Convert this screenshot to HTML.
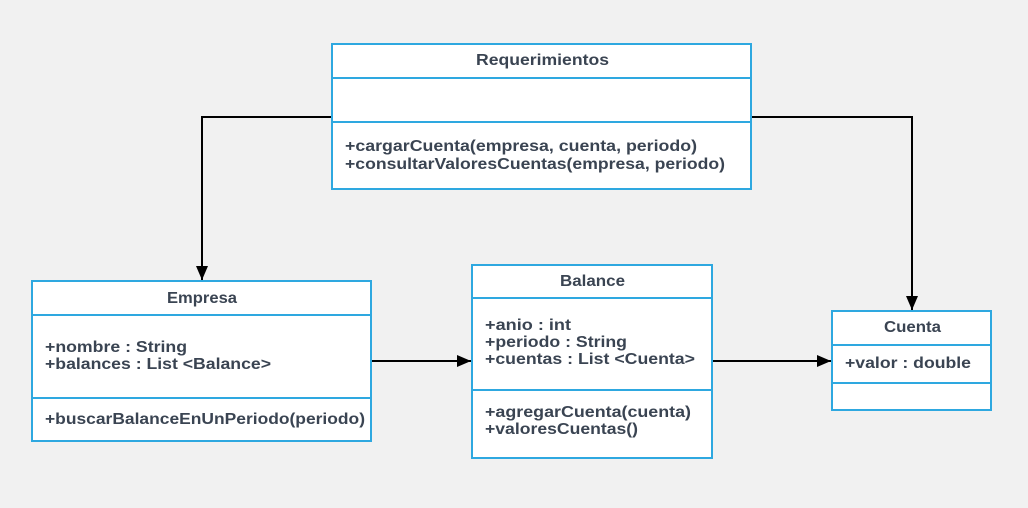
<!DOCTYPE html>
<html><head><meta charset="utf-8"><style>
html,body{margin:0;padding:0;background:#f1f1f1;}
svg{display:block;}
text{font-family:"Liberation Sans",sans-serif;font-size:16px;font-weight:bold;fill:#3a4452;}
</style></head><body>
<svg width="1028" height="508" xmlns="http://www.w3.org/2000/svg">
<defs><marker id="a" markerWidth="14" markerHeight="12" refX="14" refY="6" orient="auto" markerUnits="userSpaceOnUse"><path d="M0,0 L14,6 L0,12 z" fill="#000"/></marker></defs>
<rect width="1028" height="508" fill="#f1f1f1"/>
<g fill="none" stroke="#000" stroke-width="2">
<polyline points="332,117 202,117 202,280" marker-end="url(#a)"/>
<polyline points="751,117 912,117 912,310" marker-end="url(#a)"/>
<line x1="371" y1="361" x2="471" y2="361" marker-end="url(#a)"/>
<line x1="712" y1="361" x2="831" y2="361" marker-end="url(#a)"/>
</g>
<g fill="#fff" stroke="#2ea8e0" stroke-width="2">
<rect x="332" y="44" width="419" height="145"/>
<line x1="332" y1="78" x2="751" y2="78"/><line x1="332" y1="122" x2="751" y2="122"/>
<rect x="32" y="281" width="339" height="160"/>
<line x1="32" y1="315" x2="371" y2="315"/><line x1="32" y1="398" x2="371" y2="398"/>
<rect x="472" y="265" width="240" height="193"/>
<line x1="472" y1="298" x2="712" y2="298"/><line x1="472" y1="390" x2="712" y2="390"/>
<rect x="832" y="311" width="159" height="99"/>
<line x1="832" y1="345" x2="991" y2="345"/><line x1="832" y1="383" x2="991" y2="383"/>
</g>
<text x="476" y="65" textLength="133" lengthAdjust="spacingAndGlyphs">Requerimientos</text>
<text x="345" y="151" textLength="352" lengthAdjust="spacingAndGlyphs">+cargarCuenta(empresa, cuenta, periodo)</text>
<text x="345" y="169" textLength="380" lengthAdjust="spacingAndGlyphs">+consultarValoresCuentas(empresa, periodo)</text>
<text x="167" y="303" textLength="70" lengthAdjust="spacingAndGlyphs">Empresa</text>
<text x="45" y="352" textLength="142" lengthAdjust="spacingAndGlyphs">+nombre : String</text>
<text x="45" y="369" textLength="226" lengthAdjust="spacingAndGlyphs">+balances : List &lt;Balance&gt;</text>
<text x="45" y="424" textLength="320" lengthAdjust="spacingAndGlyphs">+buscarBalanceEnUnPeriodo(periodo)</text>
<text x="560" y="286" textLength="65" lengthAdjust="spacingAndGlyphs">Balance</text>
<text x="485" y="330" textLength="86" lengthAdjust="spacingAndGlyphs">+anio : int</text>
<text x="485" y="347" textLength="142" lengthAdjust="spacingAndGlyphs">+periodo : String</text>
<text x="485" y="364" textLength="210" lengthAdjust="spacingAndGlyphs">+cuentas : List &lt;Cuenta&gt;</text>
<text x="485" y="417" textLength="206" lengthAdjust="spacingAndGlyphs">+agregarCuenta(cuenta)</text>
<text x="485" y="434" textLength="153" lengthAdjust="spacingAndGlyphs">+valoresCuentas()</text>
<text x="884" y="332" textLength="57" lengthAdjust="spacingAndGlyphs">Cuenta</text>
<text x="845" y="368" textLength="126" lengthAdjust="spacingAndGlyphs">+valor : double</text>
</svg>
</body></html>
